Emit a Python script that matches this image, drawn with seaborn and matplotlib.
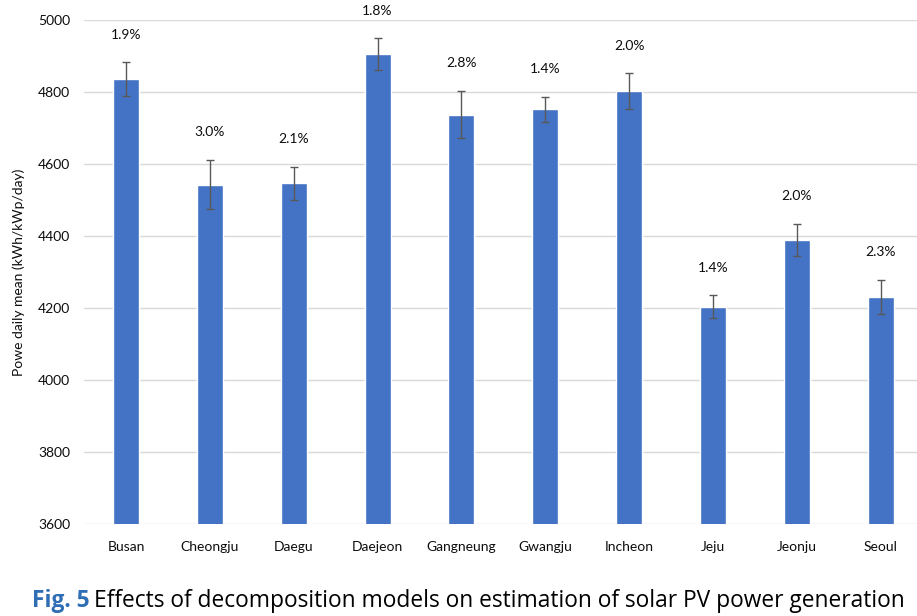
import numpy as np
import pandas as pd
import matplotlib
matplotlib.use("Agg")
import matplotlib.pyplot as plt
import seaborn as sns

# data
cities = ['Busan', 'Cheongju', 'Daegu', 'Daejeon', 'Gangneung',
          'Gwangju', 'Incheon', 'Jeju', 'Jeonju', 'Seoul']
power_mean = [4836, 4543, 4546, 4905, 4737, 4752, 4803, 4204, 4389, 4231]
power_err = [46, 68, 47, 44, 66, 34, 49, 31, 45, 48]
pct_labels = ['1.9%', '3.0%', '2.1%', '1.8%', '2.8%',
              '1.4%', '2.0%', '1.4%', '2.0%', '2.3%']
yticks = [3600, 3800, 4000, 4200, 4400, 4600, 4800, 5000]

df = pd.DataFrame({'city': cities, 'power': power_mean, 'err': power_err})

sns.set_theme(style='white')
plt.rcParams['font.family'] = ['Lato', 'DejaVu Sans']

fig = plt.figure(figsize=(9.17, 6.16), dpi=100)
ax = fig.add_axes([84 / 917, 1 - 524 / 616, 833 / 917, 504 / 616])

sns.barplot(data=df, x='city', y='power', color='#4472C4', width=0.31,
            saturation=1, ax=ax, zorder=2)

x = np.arange(len(cities))
ax.errorbar(x, df['power'], yerr=df['err'], fmt='none', ecolor='#595959',
            elinewidth=1, capsize=3, capthick=1, zorder=3)

for i, (m, e, lbl) in enumerate(zip(power_mean, power_err, pct_labels)):
    ax.annotate(lbl, (i, m + e), xytext=(0, 20), textcoords='offset points',
                ha='center', va='center', fontsize=10, color='#0d0d0d')

ax.set_ylim(3600, 5000)
ax.set_xlim(-0.5, 9.43)
ax.set_yticks(yticks)
ax.yaxis.grid(True, color='#d9d9d9', linewidth=1, zorder=0)
ax.set_axisbelow(True)
for s in ax.spines.values():
    s.set_visible(False)
ax.tick_params(axis='both', length=0, labelsize=10, colors='#0d0d0d')
ax.tick_params(axis='x', pad=12)
ax.tick_params(axis='y', pad=10)
ax.set_xlabel('')
ax.set_ylabel('Powe daily mean (kWh/kWp/day)', fontsize=10, color='#0d0d0d',
              labelpad=9)

cap_font = ['Open Sans', 'DejaVu Sans']
t1 = fig.text(32 / 917, 1 - 607 / 616, 'Fig. 5', fontsize=16.4, fontweight='bold',
              color='#2f6eb5', family=cap_font, va='baseline', ha='left')
ax.annotate('Effects of decomposition models on estimation of solar PV power generation',
            xy=(1, 0), xycoords=t1, xytext=(3, 0), textcoords='offset points',
            fontsize=16.4, color='black', family=cap_font,
            va='bottom', ha='left', annotation_clip=False)

fig.savefig('out.png', dpi=100)
